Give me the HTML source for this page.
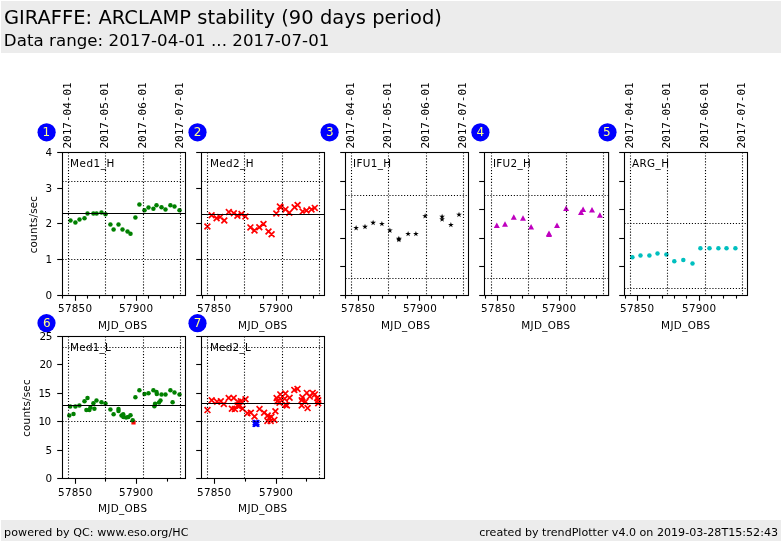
<!DOCTYPE html>
<html lang="en"><head><meta charset="utf-8"><title>GIRAFFE: ARCLAMP stability</title>
<style>
html,body{margin:0;padding:0;background:#fff;}
body{width:782px;height:542px;overflow:hidden;}
svg{display:block;will-change:transform;}
text{font-family:"DejaVu Sans", "Liberation Sans", sans-serif;}
text.m{font-family:"DejaVu Sans Mono", "Liberation Mono", monospace;}
</style></head><body>
<svg width="782" height="542" viewBox="0 0 782 542">
<rect x="0" y="0" width="782" height="542" fill="#fff"/>
<rect x="1" y="1" width="780" height="52" fill="#ececec"/>
<rect x="1" y="520" width="780" height="21" fill="#ececec"/>
<text x="3.90" y="24.00" font-size="19.44" text-anchor="start" fill="#000" textLength="438.00" lengthAdjust="spacing" >GIRAFFE: ARCLAMP stability (90 days period)</text>
<text x="3.80" y="45.90" font-size="16.67" text-anchor="start" fill="#000" textLength="325.60" lengthAdjust="spacing" >Data range: 2017-04-01 ... 2017-07-01</text>
<text x="4.10" y="536.00" font-size="11.1" text-anchor="start" fill="#000" textLength="184.30" lengthAdjust="spacing" >powered by QC: www.eso.org/HC</text>
<text x="778.00" y="536.00" font-size="11.1" text-anchor="end" fill="#000" >created by trendPlotter v4.0 on 2019-03-28T15:52:43</text>
<g id="plot1">
<g fill="#008000">
<circle cx="70.5" cy="220.4" r="2.25"/>
<circle cx="75.4" cy="222.5" r="2.25"/>
<circle cx="79.5" cy="219.4" r="2.25"/>
<circle cx="84.5" cy="218.3" r="2.25"/>
<circle cx="87.5" cy="213.5" r="2.25"/>
<circle cx="93.4" cy="213.5" r="2.25"/>
<circle cx="96.6" cy="213.5" r="2.25"/>
<circle cx="101.5" cy="212.4" r="2.25"/>
<circle cx="105.5" cy="214.2" r="2.25"/>
<circle cx="110.4" cy="224.5" r="2.25"/>
<circle cx="113.6" cy="229.4" r="2.25"/>
<circle cx="118.5" cy="224.5" r="2.25"/>
<circle cx="122.5" cy="229.5" r="2.25"/>
<circle cx="127.5" cy="231.5" r="2.25"/>
<circle cx="130.5" cy="233.7" r="2.25"/>
<circle cx="135.4" cy="217.4" r="2.25"/>
<circle cx="139.4" cy="204.6" r="2.25"/>
<circle cx="144.5" cy="210.2" r="2.25"/>
<circle cx="148.5" cy="207.4" r="2.25"/>
<circle cx="153.4" cy="208.7" r="2.25"/>
<circle cx="156.5" cy="205.3" r="2.25"/>
<circle cx="161.5" cy="207.3" r="2.25"/>
<circle cx="165.5" cy="209.5" r="2.25"/>
<circle cx="170.4" cy="205.3" r="2.25"/>
<circle cx="174.5" cy="206.4" r="2.25"/>
<circle cx="179.5" cy="210.2" r="2.25"/>
</g>
<g stroke="#000" stroke-width="1.1" fill="none">
<g stroke-dasharray="1.1 1.83">
<line x1="68.50" y1="152.50" x2="68.50" y2="295.50" />
<line x1="105.50" y1="152.50" x2="105.50" y2="295.50" />
<line x1="143.50" y1="152.50" x2="143.50" y2="295.50" />
<line x1="180.50" y1="152.50" x2="180.50" y2="295.50" />
<line x1="62.50" y1="181.50" x2="185.50" y2="181.50" />
<line x1="62.50" y1="259.50" x2="185.50" y2="259.50" />
</g>
<line x1="62.50" y1="213.50" x2="185.50" y2="213.50" />
<rect x="62.5" y="152.5" width="123.0" height="143.0"/>
<line x1="57.20" y1="152.50" x2="62.50" y2="152.50" />
<line x1="57.20" y1="188.50" x2="62.50" y2="188.50" />
<line x1="57.20" y1="223.50" x2="62.50" y2="223.50" />
<line x1="57.20" y1="259.50" x2="62.50" y2="259.50" />
<line x1="57.20" y1="295.50" x2="62.50" y2="295.50" />
<line x1="75.50" y1="295.50" x2="75.50" y2="300.80" />
<line x1="136.50" y1="295.50" x2="136.50" y2="300.80" />
<line x1="62.50" y1="295.50" x2="62.50" y2="298.60" />
<line x1="87.50" y1="295.50" x2="87.50" y2="298.60" />
<line x1="99.50" y1="295.50" x2="99.50" y2="298.60" />
<line x1="112.50" y1="295.50" x2="112.50" y2="298.60" />
<line x1="124.50" y1="295.50" x2="124.50" y2="298.60" />
<line x1="148.50" y1="295.50" x2="148.50" y2="298.60" />
<line x1="160.50" y1="295.50" x2="160.50" y2="298.60" />
<line x1="173.50" y1="295.50" x2="173.50" y2="298.60" />
</g>
<text x="70.00" y="166.60" font-size="10.4" text-anchor="start" fill="#000" letter-spacing="0.54">Med1_H</text>
<text x="75.05" y="311.80" font-size="10.4" text-anchor="middle" fill="#000" textLength="33.90" lengthAdjust="spacing" >57850</text>
<text x="136.05" y="311.80" font-size="10.4" text-anchor="middle" fill="#000" textLength="33.90" lengthAdjust="spacing" >57900</text>
<text x="122.50" y="328.80" font-size="10.4" text-anchor="middle" fill="#000" textLength="49.00" lengthAdjust="spacing" >MJD_OBS</text>
<text x="52.00" y="156.30" font-size="10.4" text-anchor="end" fill="#000" >4</text>
<text x="52.00" y="192.30" font-size="10.4" text-anchor="end" fill="#000" >3</text>
<text x="52.00" y="227.30" font-size="10.4" text-anchor="end" fill="#000" >2</text>
<text x="52.00" y="263.30" font-size="10.4" text-anchor="end" fill="#000" >1</text>
<text x="52.00" y="299.30" font-size="10.4" text-anchor="end" fill="#000" >0</text>
<text x="36.80" y="224.60" font-size="10.4" text-anchor="middle" fill="#000" textLength="57.40" lengthAdjust="spacing" transform="rotate(-90 36.80 224.60)" >counts/sec</text>
<text x="71.30" y="148.50" font-size="11.0" text-anchor="start" fill="#000" class="m" transform="rotate(-90 71.30 148.50)" >2017-04-01</text>
<text x="108.30" y="148.50" font-size="11.0" text-anchor="start" fill="#000" class="m" transform="rotate(-90 108.30 148.50)" >2017-05-01</text>
<text x="146.30" y="148.50" font-size="11.0" text-anchor="start" fill="#000" class="m" transform="rotate(-90 146.30 148.50)" >2017-06-01</text>
<text x="183.30" y="148.50" font-size="11.0" text-anchor="start" fill="#000" class="m" transform="rotate(-90 183.30 148.50)" >2017-07-01</text>
</g>
<g id="plot2">
<path d="M204.5 223.6L210.3 229.4M204.5 229.4L210.3 223.6M208.7 212.3L214.5 218.1M208.7 218.1L214.5 212.3M213.7 215.3L219.5 221.1M213.7 221.1L219.5 215.3M217.3 214.2L223.1 220.0M217.3 220.0L223.1 214.2M221.4 217.6L227.2 223.4M221.4 223.4L227.2 217.6M225.9 209.2L231.7 215.0M225.9 215.0L231.7 209.2M230.9 210.4L236.7 216.2M230.9 216.2L236.7 210.4M234.5 212.9L240.3 218.7M234.5 218.7L240.3 212.9M238.6 211.2L244.4 217.0M238.6 217.0L244.4 211.2M242.5 213.5L248.3 219.3M242.5 219.3L248.3 213.5M247.5 224.5L253.3 230.3M247.5 230.3L253.3 224.5M251.6 227.5L257.4 233.3M251.6 233.3L257.4 227.5M256.4 224.4L262.2 230.2M256.4 230.2L262.2 224.4M260.6 221.1L266.4 226.9M260.6 226.9L266.4 221.1M265.6 228.6L271.4 234.4M265.6 234.4L271.4 228.6M268.7 231.4L274.5 237.2M268.7 237.2L274.5 231.4M273.4 210.6L279.2 216.4M273.4 216.4L279.2 210.6M277.0 203.7L282.8 209.5M277.0 209.5L282.8 203.7M277.8 204.5L283.6 210.3M277.8 210.3L283.6 204.5M282.6 206.5L288.4 212.3M282.6 212.3L288.4 206.5M286.4 209.8L292.2 215.6M286.4 215.6L292.2 209.8M291.7 204.3L297.5 210.1M291.7 210.1L297.5 204.3M294.7 202.1L300.5 207.9M294.7 207.9L300.5 202.1M299.7 208.7L305.5 214.5M299.7 214.5L305.5 208.7M303.6 207.6L309.4 213.4M303.6 213.4L309.4 207.6M308.6 206.5L314.4 212.3M308.6 212.3L314.4 206.5M311.9 205.0L317.7 210.8M311.9 210.8L317.7 205.0" stroke="#ff0000" stroke-width="1.7" fill="none" stroke-linecap="butt"/>
<g stroke="#000" stroke-width="1.1" fill="none">
<g stroke-dasharray="1.1 1.83">
<line x1="207.50" y1="152.50" x2="207.50" y2="295.50" />
<line x1="244.50" y1="152.50" x2="244.50" y2="295.50" />
<line x1="282.50" y1="152.50" x2="282.50" y2="295.50" />
<line x1="319.50" y1="152.50" x2="319.50" y2="295.50" />
<line x1="201.50" y1="181.50" x2="324.50" y2="181.50" />
<line x1="201.50" y1="259.50" x2="324.50" y2="259.50" />
</g>
<line x1="201.50" y1="214.50" x2="324.50" y2="214.50" />
<rect x="201.5" y="152.5" width="123.0" height="143.0"/>
<line x1="196.20" y1="152.50" x2="201.50" y2="152.50" />
<line x1="196.20" y1="188.50" x2="201.50" y2="188.50" />
<line x1="196.20" y1="223.50" x2="201.50" y2="223.50" />
<line x1="196.20" y1="259.50" x2="201.50" y2="259.50" />
<line x1="196.20" y1="295.50" x2="201.50" y2="295.50" />
<line x1="214.50" y1="295.50" x2="214.50" y2="300.80" />
<line x1="276.50" y1="295.50" x2="276.50" y2="300.80" />
<line x1="202.50" y1="295.50" x2="202.50" y2="298.60" />
<line x1="226.50" y1="295.50" x2="226.50" y2="298.60" />
<line x1="239.50" y1="295.50" x2="239.50" y2="298.60" />
<line x1="251.50" y1="295.50" x2="251.50" y2="298.60" />
<line x1="263.50" y1="295.50" x2="263.50" y2="298.60" />
<line x1="288.50" y1="295.50" x2="288.50" y2="298.60" />
<line x1="300.50" y1="295.50" x2="300.50" y2="298.60" />
<line x1="313.50" y1="295.50" x2="313.50" y2="298.60" />
</g>
<text x="209.90" y="166.60" font-size="10.4" text-anchor="start" fill="#000" letter-spacing="0.4">Med2_H</text>
<text x="214.05" y="311.80" font-size="10.4" text-anchor="middle" fill="#000" textLength="33.90" lengthAdjust="spacing" >57850</text>
<text x="276.05" y="311.80" font-size="10.4" text-anchor="middle" fill="#000" textLength="33.90" lengthAdjust="spacing" >57900</text>
<text x="262.60" y="328.80" font-size="10.4" text-anchor="middle" fill="#000" textLength="49.00" lengthAdjust="spacing" >MJD_OBS</text>
</g>
<g id="plot3">
<g fill="#000000">
<polygon points="356.10,225.00 356.77,227.07 358.95,227.07 357.19,228.35 357.86,230.43 356.10,229.15 354.34,230.43 355.01,228.35 353.25,227.07 355.43,227.07"/>
<polygon points="365.00,223.80 365.67,225.87 367.85,225.87 366.09,227.15 366.76,229.23 365.00,227.95 363.24,229.23 363.91,227.15 362.15,225.87 364.33,225.87"/>
<polygon points="373.10,219.80 373.77,221.87 375.95,221.87 374.19,223.15 374.86,225.23 373.10,223.95 371.34,225.23 372.01,223.15 370.25,221.87 372.43,221.87"/>
<polygon points="381.90,220.90 382.57,222.97 384.75,222.97 382.99,224.25 383.66,226.33 381.90,225.05 380.14,226.33 380.81,224.25 379.05,222.97 381.23,222.97"/>
<polygon points="389.90,227.50 390.57,229.57 392.75,229.57 390.99,230.85 391.66,232.93 389.90,231.65 388.14,232.93 388.81,230.85 387.05,229.57 389.23,229.57"/>
<polygon points="398.90,235.80 399.57,237.87 401.75,237.87 399.99,239.15 400.66,241.23 398.90,239.95 397.14,241.23 397.81,239.15 396.05,237.87 398.23,237.87"/>
<polygon points="398.90,236.80 399.57,238.87 401.75,238.87 399.99,240.15 400.66,242.23 398.90,240.95 397.14,242.23 397.81,240.15 396.05,238.87 398.23,238.87"/>
<polygon points="408.10,230.90 408.77,232.97 410.95,232.97 409.19,234.25 409.86,236.33 408.10,235.05 406.34,236.33 407.01,234.25 405.25,232.97 407.43,232.97"/>
<polygon points="415.90,230.90 416.57,232.97 418.75,232.97 416.99,234.25 417.66,236.33 415.90,235.05 414.14,236.33 414.81,234.25 413.05,232.97 415.23,232.97"/>
<polygon points="425.10,213.10 425.77,215.17 427.95,215.17 426.19,216.45 426.86,218.53 425.10,217.25 423.34,218.53 424.01,216.45 422.25,215.17 424.43,215.17"/>
<polygon points="442.10,213.70 442.77,215.77 444.95,215.77 443.19,217.05 443.86,219.13 442.10,217.85 440.34,219.13 441.01,217.05 439.25,215.77 441.43,215.77"/>
<polygon points="442.10,216.40 442.77,218.47 444.95,218.47 443.19,219.75 443.86,221.83 442.10,220.55 440.34,221.83 441.01,219.75 439.25,218.47 441.43,218.47"/>
<polygon points="450.90,221.90 451.57,223.97 453.75,223.97 451.99,225.25 452.66,227.33 450.90,226.05 449.14,227.33 449.81,225.25 448.05,223.97 450.23,223.97"/>
<polygon points="459.00,211.70 459.67,213.77 461.85,213.77 460.09,215.05 460.76,217.13 459.00,215.85 457.24,217.13 457.91,215.05 456.15,213.77 458.33,213.77"/>
</g>
<g stroke="#000" stroke-width="1.1" fill="none">
<g stroke-dasharray="1.1 1.83">
<line x1="351.50" y1="152.50" x2="351.50" y2="295.50" />
<line x1="388.50" y1="152.50" x2="388.50" y2="295.50" />
<line x1="426.50" y1="152.50" x2="426.50" y2="295.50" />
<line x1="463.50" y1="152.50" x2="463.50" y2="295.50" />
<line x1="345.50" y1="195.50" x2="468.50" y2="195.50" />
<line x1="345.50" y1="278.50" x2="468.50" y2="278.50" />
</g>
<rect x="345.5" y="152.5" width="123.0" height="143.0"/>
<line x1="340.20" y1="152.50" x2="345.50" y2="152.50" />
<line x1="340.20" y1="181.50" x2="345.50" y2="181.50" />
<line x1="340.20" y1="209.50" x2="345.50" y2="209.50" />
<line x1="340.20" y1="238.50" x2="345.50" y2="238.50" />
<line x1="340.20" y1="266.50" x2="345.50" y2="266.50" />
<line x1="340.20" y1="295.50" x2="345.50" y2="295.50" />
<line x1="358.50" y1="295.50" x2="358.50" y2="300.80" />
<line x1="419.50" y1="295.50" x2="419.50" y2="300.80" />
<line x1="345.50" y1="295.50" x2="345.50" y2="298.60" />
<line x1="370.50" y1="295.50" x2="370.50" y2="298.60" />
<line x1="382.50" y1="295.50" x2="382.50" y2="298.60" />
<line x1="395.50" y1="295.50" x2="395.50" y2="298.60" />
<line x1="407.50" y1="295.50" x2="407.50" y2="298.60" />
<line x1="431.50" y1="295.50" x2="431.50" y2="298.60" />
<line x1="443.50" y1="295.50" x2="443.50" y2="298.60" />
<line x1="456.50" y1="295.50" x2="456.50" y2="298.60" />
</g>
<text x="353.10" y="166.60" font-size="10.4" text-anchor="start" fill="#000" letter-spacing="0.32">IFU1_H</text>
<text x="358.05" y="311.80" font-size="10.4" text-anchor="middle" fill="#000" textLength="33.90" lengthAdjust="spacing" >57850</text>
<text x="419.85" y="311.80" font-size="10.4" text-anchor="middle" fill="#000" textLength="33.90" lengthAdjust="spacing" >57900</text>
<text x="405.50" y="328.80" font-size="10.4" text-anchor="middle" fill="#000" textLength="49.00" lengthAdjust="spacing" >MJD_OBS</text>
<text x="354.30" y="148.50" font-size="11.0" text-anchor="start" fill="#000" class="m" transform="rotate(-90 354.30 148.50)" >2017-04-01</text>
<text x="391.30" y="148.50" font-size="11.0" text-anchor="start" fill="#000" class="m" transform="rotate(-90 391.30 148.50)" >2017-05-01</text>
<text x="429.30" y="148.50" font-size="11.0" text-anchor="start" fill="#000" class="m" transform="rotate(-90 429.30 148.50)" >2017-06-01</text>
<text x="466.30" y="148.50" font-size="11.0" text-anchor="start" fill="#000" class="m" transform="rotate(-90 466.30 148.50)" >2017-07-01</text>
</g>
<g id="plot4">
<g fill="#bf00bf">
<polygon points="496.8,222.4 493.8,227.9 499.8,227.9"/>
<polygon points="505.0,221.3 502.0,226.8 508.0,226.8"/>
<polygon points="513.8,214.2 510.8,219.7 516.8,219.7"/>
<polygon points="523.0,215.3 520.0,220.8 526.0,220.8"/>
<polygon points="531.1,224.1 528.1,229.6 534.1,229.6"/>
<polygon points="549.0,230.6 546.0,236.1 552.0,236.1"/>
<polygon points="549.0,231.4 546.0,236.9 552.0,236.9"/>
<polygon points="557.0,222.5 554.0,228.0 560.0,228.0"/>
<polygon points="566.1,205.4 563.1,210.9 569.1,210.9"/>
<polygon points="581.0,209.5 578.0,215.0 584.0,215.0"/>
<polygon points="583.1,206.4 580.1,211.9 586.1,211.9"/>
<polygon points="592.0,207.1 589.0,212.6 595.0,212.6"/>
<polygon points="599.9,212.3 596.9,217.8 602.9,217.8"/>
</g>
<g stroke="#000" stroke-width="1.1" fill="none">
<g stroke-dasharray="1.1 1.83">
<line x1="491.50" y1="152.50" x2="491.50" y2="295.50" />
<line x1="528.50" y1="152.50" x2="528.50" y2="295.50" />
<line x1="566.50" y1="152.50" x2="566.50" y2="295.50" />
<line x1="603.50" y1="152.50" x2="603.50" y2="295.50" />
<line x1="484.50" y1="195.50" x2="608.60" y2="195.50" />
<line x1="484.50" y1="278.50" x2="608.60" y2="278.50" />
</g>
<rect x="484.5" y="152.5" width="124.10000000000002" height="143.0"/>
<line x1="479.20" y1="152.50" x2="484.50" y2="152.50" />
<line x1="479.20" y1="181.50" x2="484.50" y2="181.50" />
<line x1="479.20" y1="209.50" x2="484.50" y2="209.50" />
<line x1="479.20" y1="238.50" x2="484.50" y2="238.50" />
<line x1="479.20" y1="266.50" x2="484.50" y2="266.50" />
<line x1="479.20" y1="295.50" x2="484.50" y2="295.50" />
<line x1="497.50" y1="295.50" x2="497.50" y2="300.80" />
<line x1="559.50" y1="295.50" x2="559.50" y2="300.80" />
<line x1="485.50" y1="295.50" x2="485.50" y2="298.60" />
<line x1="510.50" y1="295.50" x2="510.50" y2="298.60" />
<line x1="522.50" y1="295.50" x2="522.50" y2="298.60" />
<line x1="534.50" y1="295.50" x2="534.50" y2="298.60" />
<line x1="547.50" y1="295.50" x2="547.50" y2="298.60" />
<line x1="571.50" y1="295.50" x2="571.50" y2="298.60" />
<line x1="584.50" y1="295.50" x2="584.50" y2="298.60" />
<line x1="596.50" y1="295.50" x2="596.50" y2="298.60" />
</g>
<text x="492.90" y="166.60" font-size="10.4" text-anchor="start" fill="#000" letter-spacing="0.34">IFU2_H</text>
<text x="498.05" y="311.80" font-size="10.4" text-anchor="middle" fill="#000" textLength="33.90" lengthAdjust="spacing" >57850</text>
<text x="559.05" y="311.80" font-size="10.4" text-anchor="middle" fill="#000" textLength="33.90" lengthAdjust="spacing" >57900</text>
<text x="545.70" y="328.80" font-size="10.4" text-anchor="middle" fill="#000" textLength="49.00" lengthAdjust="spacing" >MJD_OBS</text>
</g>
<g id="plot5">
<g fill="#00bfbf">
<circle cx="632.4" cy="257.3" r="2.25"/>
<circle cx="640.5" cy="255.4" r="2.25"/>
<circle cx="649.4" cy="255.4" r="2.25"/>
<circle cx="657.5" cy="253.5" r="2.25"/>
<circle cx="666.4" cy="254.4" r="2.25"/>
<circle cx="674.3" cy="261.3" r="2.25"/>
<circle cx="683.3" cy="260.1" r="2.25"/>
<circle cx="692.5" cy="263.4" r="2.25"/>
<circle cx="700.4" cy="248.3" r="2.25"/>
<circle cx="709.5" cy="248.3" r="2.25"/>
<circle cx="718.4" cy="248.3" r="2.25"/>
<circle cx="726.5" cy="248.3" r="2.25"/>
<circle cx="735.4" cy="248.3" r="2.25"/>
</g>
<g stroke="#000" stroke-width="1.1" fill="none">
<g stroke-dasharray="1.1 1.83">
<line x1="630.50" y1="152.50" x2="630.50" y2="295.50" />
<line x1="667.50" y1="152.50" x2="667.50" y2="295.50" />
<line x1="705.50" y1="152.50" x2="705.50" y2="295.50" />
<line x1="742.50" y1="152.50" x2="742.50" y2="295.50" />
<line x1="624.50" y1="223.50" x2="747.50" y2="223.50" />
<line x1="624.50" y1="288.50" x2="747.50" y2="288.50" />
</g>
<rect x="624.5" y="152.5" width="123.0" height="143.0"/>
<line x1="619.20" y1="152.50" x2="624.50" y2="152.50" />
<line x1="619.20" y1="181.50" x2="624.50" y2="181.50" />
<line x1="619.20" y1="209.50" x2="624.50" y2="209.50" />
<line x1="619.20" y1="238.50" x2="624.50" y2="238.50" />
<line x1="619.20" y1="266.50" x2="624.50" y2="266.50" />
<line x1="619.20" y1="295.50" x2="624.50" y2="295.50" />
<line x1="637.50" y1="295.50" x2="637.50" y2="300.80" />
<line x1="699.50" y1="295.50" x2="699.50" y2="300.80" />
<line x1="625.50" y1="295.50" x2="625.50" y2="298.60" />
<line x1="649.50" y1="295.50" x2="649.50" y2="298.60" />
<line x1="662.50" y1="295.50" x2="662.50" y2="298.60" />
<line x1="674.50" y1="295.50" x2="674.50" y2="298.60" />
<line x1="686.50" y1="295.50" x2="686.50" y2="298.60" />
<line x1="711.50" y1="295.50" x2="711.50" y2="298.60" />
<line x1="723.50" y1="295.50" x2="723.50" y2="298.60" />
<line x1="736.50" y1="295.50" x2="736.50" y2="298.60" />
</g>
<text x="631.90" y="166.60" font-size="10.4" text-anchor="start" fill="#000" letter-spacing="0.45">ARG_H</text>
<text x="637.05" y="311.80" font-size="10.4" text-anchor="middle" fill="#000" textLength="33.90" lengthAdjust="spacing" >57850</text>
<text x="699.05" y="311.80" font-size="10.4" text-anchor="middle" fill="#000" textLength="33.90" lengthAdjust="spacing" >57900</text>
<text x="685.60" y="328.80" font-size="10.4" text-anchor="middle" fill="#000" textLength="49.00" lengthAdjust="spacing" >MJD_OBS</text>
<text x="633.30" y="148.50" font-size="11.0" text-anchor="start" fill="#000" class="m" transform="rotate(-90 633.30 148.50)" >2017-04-01</text>
<text x="670.30" y="148.50" font-size="11.0" text-anchor="start" fill="#000" class="m" transform="rotate(-90 670.30 148.50)" >2017-05-01</text>
<text x="708.30" y="148.50" font-size="11.0" text-anchor="start" fill="#000" class="m" transform="rotate(-90 708.30 148.50)" >2017-06-01</text>
<text x="745.30" y="148.50" font-size="11.0" text-anchor="start" fill="#000" class="m" transform="rotate(-90 745.30 148.50)" >2017-07-01</text>
</g>
<g id="plot6">
<g fill="#ff0000">
<rect x="131.4" y="420.3" width="4.2" height="4.2"/>
</g>
<g fill="#008000">
<circle cx="69.3" cy="415.5" r="2.25"/>
<circle cx="73.5" cy="414.0" r="2.25"/>
<circle cx="70.2" cy="406.5" r="2.25"/>
<circle cx="75.4" cy="406.5" r="2.25"/>
<circle cx="79.4" cy="405.4" r="2.25"/>
<circle cx="84.5" cy="401.3" r="2.25"/>
<circle cx="87.5" cy="398.0" r="2.25"/>
<circle cx="86.4" cy="410.1" r="2.25"/>
<circle cx="89.4" cy="410.1" r="2.25"/>
<circle cx="90.4" cy="407.6" r="2.25"/>
<circle cx="93.4" cy="403.2" r="2.25"/>
<circle cx="94.4" cy="408.7" r="2.25"/>
<circle cx="96.5" cy="400.6" r="2.25"/>
<circle cx="101.5" cy="402.2" r="2.25"/>
<circle cx="105.5" cy="403.4" r="2.25"/>
<circle cx="110.4" cy="409.4" r="2.25"/>
<circle cx="113.6" cy="414.3" r="2.25"/>
<circle cx="118.5" cy="409.1" r="2.25"/>
<circle cx="118.5" cy="411.0" r="2.25"/>
<circle cx="121.5" cy="415.5" r="2.25"/>
<circle cx="123.2" cy="414.3" r="2.25"/>
<circle cx="123.4" cy="417.0" r="2.25"/>
<circle cx="126.1" cy="417.5" r="2.25"/>
<circle cx="128.3" cy="416.9" r="2.25"/>
<circle cx="130.5" cy="415.3" r="2.25"/>
<circle cx="132.7" cy="420.2" r="2.25"/>
<circle cx="135.4" cy="397.3" r="2.25"/>
<circle cx="139.4" cy="390.2" r="2.25"/>
<circle cx="144.5" cy="394.1" r="2.25"/>
<circle cx="148.5" cy="393.2" r="2.25"/>
<circle cx="153.4" cy="390.2" r="2.25"/>
<circle cx="156.5" cy="392.1" r="2.25"/>
<circle cx="156.8" cy="394.1" r="2.25"/>
<circle cx="161.5" cy="394.4" r="2.25"/>
<circle cx="165.5" cy="394.4" r="2.25"/>
<circle cx="170.4" cy="390.2" r="2.25"/>
<circle cx="174.5" cy="392.4" r="2.25"/>
<circle cx="179.5" cy="394.4" r="2.25"/>
<circle cx="172.6" cy="402.2" r="2.25"/>
<circle cx="160.5" cy="400.6" r="2.25"/>
<circle cx="159.0" cy="402.5" r="2.25"/>
<circle cx="155.1" cy="403.7" r="2.25"/>
<circle cx="154.4" cy="406.2" r="2.25"/>
</g>
<g stroke="#000" stroke-width="1.1" fill="none">
<g stroke-dasharray="1.1 1.83">
<line x1="68.50" y1="336.50" x2="68.50" y2="478.50" />
<line x1="105.50" y1="336.50" x2="105.50" y2="478.50" />
<line x1="143.50" y1="336.50" x2="143.50" y2="478.50" />
<line x1="180.50" y1="336.50" x2="180.50" y2="478.50" />
<line x1="62.50" y1="347.50" x2="185.50" y2="347.50" />
<line x1="62.50" y1="421.50" x2="185.50" y2="421.50" />
</g>
<line x1="62.50" y1="405.50" x2="185.50" y2="405.50" />
<rect x="62.5" y="336.5" width="123.0" height="142.0"/>
<line x1="57.20" y1="336.50" x2="62.50" y2="336.50" />
<line x1="57.20" y1="364.50" x2="62.50" y2="364.50" />
<line x1="57.20" y1="393.50" x2="62.50" y2="393.50" />
<line x1="57.20" y1="421.50" x2="62.50" y2="421.50" />
<line x1="57.20" y1="450.50" x2="62.50" y2="450.50" />
<line x1="57.20" y1="478.50" x2="62.50" y2="478.50" />
<line x1="75.50" y1="478.50" x2="75.50" y2="483.80" />
<line x1="136.50" y1="478.50" x2="136.50" y2="483.80" />
<line x1="105.50" y1="478.50" x2="105.50" y2="481.60" />
<line x1="167.50" y1="478.50" x2="167.50" y2="481.60" />
</g>
<text x="70.00" y="350.60" font-size="10.4" text-anchor="start" fill="#000" letter-spacing="0.26">Med1_L</text>
<text x="75.05" y="495.80" font-size="10.4" text-anchor="middle" fill="#000" textLength="33.90" lengthAdjust="spacing" >57850</text>
<text x="136.05" y="495.80" font-size="10.4" text-anchor="middle" fill="#000" textLength="33.90" lengthAdjust="spacing" >57900</text>
<text x="122.50" y="511.80" font-size="10.4" text-anchor="middle" fill="#000" textLength="49.00" lengthAdjust="spacing" >MJD_OBS</text>
<text x="52.30" y="340.30" font-size="10.4" text-anchor="end" fill="#000" textLength="12.90" lengthAdjust="spacing" >25</text>
<text x="52.30" y="368.30" font-size="10.4" text-anchor="end" fill="#000" textLength="12.90" lengthAdjust="spacing" >20</text>
<text x="51.10" y="397.30" font-size="10.4" text-anchor="end" fill="#000" textLength="12.50" lengthAdjust="spacing" >15</text>
<text x="51.10" y="425.30" font-size="10.4" text-anchor="end" fill="#000" textLength="12.50" lengthAdjust="spacing" >10</text>
<text x="52.00" y="454.30" font-size="10.4" text-anchor="end" fill="#000" >5</text>
<text x="52.00" y="482.30" font-size="10.4" text-anchor="end" fill="#000" >0</text>
<text x="29.60" y="408.10" font-size="10.4" text-anchor="middle" fill="#000" textLength="57.40" lengthAdjust="spacing" transform="rotate(-90 29.60 408.10)" >counts/sec</text>
</g>
<g id="plot7">
<path d="M204.6 407.2L210.4 413.0M204.6 413.0L210.4 407.2M208.8 397.4L214.6 403.2M208.8 403.2L214.6 397.4M214.2 398.8L220.0 404.6M214.2 404.6L220.0 398.8M217.9 398.4L223.7 404.2M217.9 404.2L223.7 398.4M220.9 401.0L226.7 406.8M220.9 406.8L226.7 401.0M225.8 395.1L231.6 400.9M225.8 400.9L231.6 395.1M230.8 395.1L236.6 400.9M230.8 400.9L236.6 395.1M229.0 405.8L234.8 411.6M229.0 411.6L234.8 405.8M232.0 406.2L237.8 412.0M232.0 412.0L237.8 406.2M234.9 398.8L240.7 404.6M234.9 404.6L240.7 398.8M234.6 402.5L240.4 408.3M234.6 408.3L240.4 402.5M237.1 402.5L242.9 408.3M237.1 408.3L242.9 402.5M237.9 398.4L243.7 404.2M237.9 404.2L243.7 398.4M239.6 405.8L245.4 411.6M239.6 411.6L245.4 405.8M242.6 396.3L248.4 402.1M242.6 402.1L248.4 396.3M244.5 410.3L250.3 416.1M244.5 416.1L250.3 410.3M247.9 409.9L253.7 415.7M247.9 415.7L253.7 409.9M251.6 413.6L257.4 419.4M251.6 419.4L257.4 413.6M256.6 406.2L262.4 412.0M256.6 412.0L262.4 406.2M261.2 409.9L267.0 415.7M261.2 415.7L267.0 409.9M264.8 412.6L270.6 418.4M264.8 418.4L270.6 412.6M266.3 415.1L272.1 420.9M266.3 420.9L272.1 415.1M264.5 418.0L270.3 423.8M264.5 423.8L270.3 418.0M268.5 414.0L274.3 419.8M268.5 419.8L274.3 414.0M267.8 418.0L273.6 423.8M267.8 423.8L273.6 418.0M271.5 417.0L277.3 422.8M271.5 422.8L277.3 417.0M272.5 408.4L278.3 414.2M272.5 414.2L278.3 408.4M273.7 395.1L279.5 400.9M273.7 400.9L279.5 395.1M274.4 398.4L280.2 404.2M274.4 404.2L280.2 398.4M277.4 391.5L283.2 397.3M277.4 397.3L283.2 391.5M277.4 395.9L283.2 401.7M277.4 401.7L283.2 395.9M276.6 399.9L282.4 405.7M276.6 405.7L282.4 399.9M282.5 390.7L288.3 396.5M282.5 396.5L288.3 390.7M281.8 395.9L287.6 401.7M281.8 401.7L287.6 395.9M282.5 401.8L288.3 407.6M282.5 407.6L288.3 401.8M284.0 402.5L289.8 408.3M284.0 408.3L289.8 402.5M286.7 394.8L292.5 400.6M286.7 400.6L292.5 394.8M291.4 387.0L297.2 392.8M291.4 392.8L297.2 387.0M294.6 386.0L300.4 391.8M294.6 391.8L300.4 386.0M299.5 394.4L305.3 400.2M299.5 400.2L305.3 394.4M298.8 397.4L304.6 403.2M298.8 403.2L304.6 397.4M298.8 402.5L304.6 408.3M298.8 408.3L304.6 402.5M302.5 398.8L308.3 404.6M302.5 404.6L308.3 398.8M303.9 390.0L309.7 395.8M303.9 395.8L309.7 390.0M304.7 405.2L310.5 411.0M304.7 411.0L310.5 405.2M306.9 393.7L312.7 399.5M306.9 399.5L312.7 393.7M309.8 390.0L315.6 395.8M309.8 395.8L315.6 390.0M312.0 391.5L317.8 397.3M312.0 397.3L317.8 391.5M314.3 395.1L320.1 400.9M314.3 400.9L320.1 395.1M315.3 400.3L321.1 406.1M315.3 406.1L321.1 400.3M315.3 397.4L321.1 403.2M315.3 403.2L321.1 397.4" stroke="#ff0000" stroke-width="1.7" fill="none" stroke-linecap="butt"/>
<path d="M252.7 420.1L257.9 425.3M252.7 425.3L257.9 420.1M254.1 420.1L259.3 425.3M254.1 425.3L259.3 420.1M252.7 421.6L257.9 426.8M252.7 426.8L257.9 421.6M254.1 421.6L259.3 426.8M254.1 426.8L259.3 421.6" stroke="#0000ff" stroke-width="1.6" fill="none" stroke-linecap="butt"/>
<g stroke="#000" stroke-width="1.1" fill="none">
<g stroke-dasharray="1.1 1.83">
<line x1="207.50" y1="336.50" x2="207.50" y2="478.50" />
<line x1="244.50" y1="336.50" x2="244.50" y2="478.50" />
<line x1="282.50" y1="336.50" x2="282.50" y2="478.50" />
<line x1="319.50" y1="336.50" x2="319.50" y2="478.50" />
<line x1="201.50" y1="347.50" x2="324.50" y2="347.50" />
<line x1="201.50" y1="421.50" x2="324.50" y2="421.50" />
</g>
<line x1="201.50" y1="403.50" x2="324.50" y2="403.50" />
<rect x="201.5" y="336.5" width="123.0" height="142.0"/>
<line x1="196.20" y1="336.50" x2="201.50" y2="336.50" />
<line x1="196.20" y1="364.50" x2="201.50" y2="364.50" />
<line x1="196.20" y1="393.50" x2="201.50" y2="393.50" />
<line x1="196.20" y1="421.50" x2="201.50" y2="421.50" />
<line x1="196.20" y1="450.50" x2="201.50" y2="450.50" />
<line x1="196.20" y1="478.50" x2="201.50" y2="478.50" />
<line x1="214.50" y1="478.50" x2="214.50" y2="483.80" />
<line x1="276.50" y1="478.50" x2="276.50" y2="483.80" />
<line x1="245.50" y1="478.50" x2="245.50" y2="481.60" />
<line x1="306.50" y1="478.50" x2="306.50" y2="481.60" />
</g>
<text x="209.90" y="350.60" font-size="10.4" text-anchor="start" fill="#000" letter-spacing="0.26">Med2_L</text>
<text x="214.05" y="495.80" font-size="10.4" text-anchor="middle" fill="#000" textLength="33.90" lengthAdjust="spacing" >57850</text>
<text x="276.05" y="495.80" font-size="10.4" text-anchor="middle" fill="#000" textLength="33.90" lengthAdjust="spacing" >57900</text>
<text x="262.60" y="511.80" font-size="10.4" text-anchor="middle" fill="#000" textLength="49.00" lengthAdjust="spacing" >MJD_OBS</text>
</g>
<circle cx="46.6" cy="132.3" r="9.1" fill="#0000ff"/>
<text x="46.20" y="135.80" font-size="12" text-anchor="middle" fill="#ffff8c" >1</text>
<circle cx="197.5" cy="132.3" r="9.1" fill="#0000ff"/>
<text x="197.50" y="135.80" font-size="12" text-anchor="middle" fill="#ffff8c" >2</text>
<circle cx="329.6" cy="132.3" r="9.1" fill="#0000ff"/>
<text x="329.80" y="135.80" font-size="12" text-anchor="middle" fill="#ffff8c" >3</text>
<circle cx="480.4" cy="132.3" r="9.1" fill="#0000ff"/>
<text x="480.40" y="135.80" font-size="12" text-anchor="middle" fill="#ffff8c" >4</text>
<circle cx="607.5" cy="132.3" r="9.1" fill="#0000ff"/>
<text x="606.80" y="135.80" font-size="12" text-anchor="middle" fill="#ffff8c" >5</text>
<circle cx="46.5" cy="323.1" r="9.1" fill="#0000ff"/>
<text x="46.70" y="326.60" font-size="12" text-anchor="middle" fill="#ffff8c" >6</text>
<circle cx="197.5" cy="323.2" r="9.1" fill="#0000ff"/>
<text x="197.50" y="326.70" font-size="12" text-anchor="middle" fill="#ffff8c" >7</text>
</svg></body></html>
